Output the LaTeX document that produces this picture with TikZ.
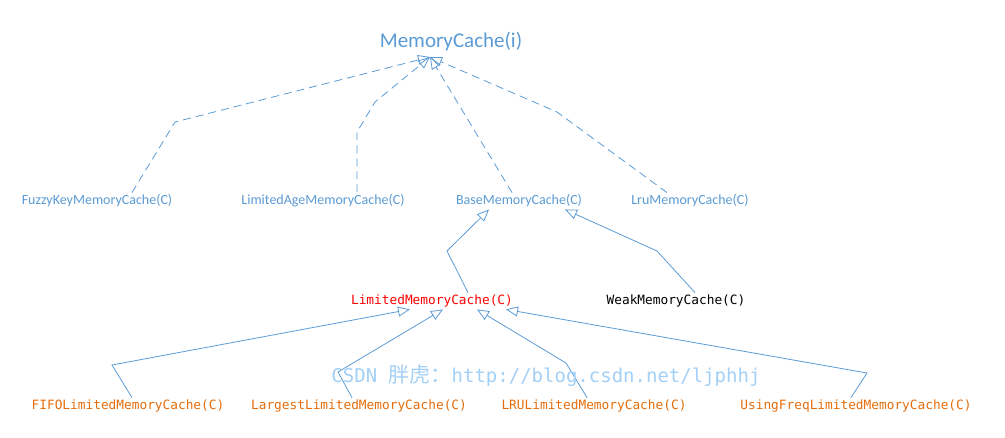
\documentclass[tikz,border=0pt]{standalone}
\usepackage{fontspec}
\setmainfont{Carlito}
\newfontfamily\codefont{DejaVu Sans Mono}
\newfontfamily\cjk{Noto Sans CJK SC}
\usetikzlibrary{arrows.meta}
\definecolor{umlblue}{HTML}{5B9BD5}
\definecolor{umlred}{HTML}{FF0000}
\definecolor{umlorange}{HTML}{E46C0A}
\definecolor{markblue}{HTML}{A3D0F6}

\begin{document}
\begin{tikzpicture}[x=1pt, y=-1pt]
                    \tikzstyle{every node}=[inner sep=2pt]
                    \tikzstyle{iface}=[font=\fontsize{21}{25}\selectfont, text=umlblue]
                    \tikzstyle{blueclass}=[font=\fontsize{14}{17}\selectfont, text=umlblue]
                    \tikzstyle{codeclass}=[font=\codefont\fontsize{12.8}{15}\selectfont]
                    \tikzstyle{realize}=[umlblue, line width=0.8pt, dash pattern=on 8pt off 5pt, -{Triangle[open, length=12pt, width=10pt]}]
                    \tikzstyle{extend}=[umlblue, line width=0.8pt, -{Triangle[open, length=12pt, width=10pt]}]
                    \useasboundingbox (0,0) rectangle (1005,437);

                    \node (mc)      [iface]                       at (451,42)  {MemoryCache(i)};
                    \coordinate (mcfoot) at (430,57);
                    \node (fuzzy)   [blueclass]                   at (97,201)  {FuzzyKeyMemoryCache(C)};
                    \node (age)     [blueclass]                   at (323,201) {LimitedAgeMemoryCache(C)};
                    \node (base)    [blueclass]                   at (519,201) {BaseMemoryCache(C)};
                    \node (lru)     [blueclass]                   at (690,201) {LruMemoryCache(C)};
                    \node (limited) [codeclass, text=umlred]      at (432,301) {LimitedMemoryCache(C)};
                    \node (weak)    [codeclass, text=black]       at (676,301) {WeakMemoryCache(C)};
                    \node (fifo)    [codeclass, text=umlorange]   at (128,406) {FIFOLimitedMemoryCache(C)};
                    \node (largest) [codeclass, text=umlorange]   at (359,406) {LargestLimitedMemoryCache(C)};
                    \node (lrulim)  [codeclass, text=umlorange]   at (594,406) {LRULimitedMemoryCache(C)};
                    \node (freq)    [codeclass, text=umlorange]   at (856,406) {UsingFreqLimitedMemoryCache(C)};

                    \draw [realize] ([xshift=35pt]fuzzy.north) -- (175,122) -- (mcfoot);
                    \draw [realize] ([xshift=34pt]age.north) -- (357,132) -- (375,102) -- (mcfoot);
                    \draw [realize] ([xshift=-7pt]base.north) -- (mcfoot);
                    \draw [realize] ([xshift=-23pt]lru.north) -- (557,112) -- (mcfoot);

                    \draw [extend] ([xshift=36pt]limited.north) -- (447,251) -- ([xshift=-30pt]base.south);
                    \draw [extend] ([xshift=19pt]weak.north) -- (657,251) -- ([xshift=46pt]base.south);

                    \draw [extend] ([xshift=4pt]fifo.north) -- (112,365) -- ([xshift=-22pt]limited.south);
                    \draw [extend] ([xshift=-7pt]largest.north) -- (338,372) -- ([xshift=11pt]limited.south);
                    \draw [extend] ([xshift=-7pt]lrulim.north) -- (566,363) -- ([xshift=45pt]limited.south);
                    \draw [extend] ([xshift=-5pt]freq.north) -- (867,373) -- ([xshift=74pt]limited.south);

                    % watermark
                    \node (mark)    [text=markblue, font=\codefont\fontsize{19}{21}\selectfont] at (546,376) {CSDN {\cjk\fontsize{21}{23}\selectfont 胖虎：}http://blog.csdn.net/ljphhj};
\end{tikzpicture}
\end{document}
